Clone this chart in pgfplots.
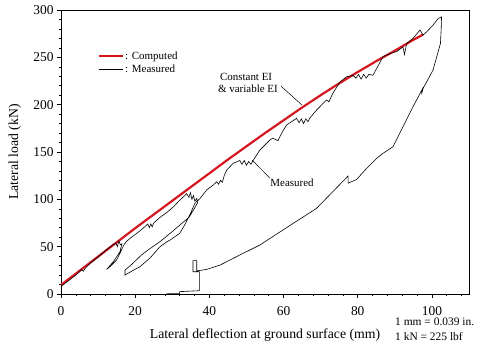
\documentclass[border=0pt]{standalone}
\usepackage{fontspec}
\setmainfont{Liberation Serif}
\usepackage{pgfplots}
\pgfplotsset{compat=1.18}
\definecolor{compred}{RGB}{214,22,30}
\begin{document}
\begin{tikzpicture}
\begin{axis}[
  scale only axis, width=408bp, height=284bp,
  xmin=0, xmax=110, ymin=0, ymax=300,
  xtick={0,20,...,100}, ytick={0,50,...,300},
  minor xtick={0,4,...,108}, minor ytick={0,10,...,300},
  tick align=outside, xtick pos=left, ytick pos=left,
  major tick length=4bp, minor tick length=2bp,
  tick style={black, line width=0.5pt},
  axis line style={line width=0.6pt},
  /pgf/number format/assume math mode=true,
  tick label style={font=\fontsize{13.5}{14}\selectfont},
  xticklabel style={yshift=-5bp},
  xlabel={Lateral deflection at ground surface (mm)},
  ylabel={Lateral load (kN)},
  label style={font=\fontsize{13.8}{15}\selectfont},
  xlabel style={at={(axis description cs:0.5,-0.144)}, anchor=center},
  ylabel style={at={(axis description cs:-0.113,0.5)}, anchor=center},
  clip=false,
  legend style={at={(axis cs:9.8,258)}, anchor=north west, draw=none, fill=none,
    font=\fontsize{11}{12}\selectfont, row sep=1pt, inner sep=0pt,
    nodes={inner sep=1.5pt}},
  legend cell align=left,
  legend image code/.code={\draw[#1] (0bp,0bp) -- (24bp,0bp);},
]
\addplot[compred, line width=2.2pt] coordinates {
(0,9.5)(5,24.5)(10,39.5)(15,54.5)(20,69.5)(25,84)(30,98.5)(35,113)(40,127.5)(45,142)(50,156)(55,170)(60,183.5)(65,197)(70,210)(75,222.5)(80,234.5)(85,246)(90,257)(95,268.5)(97.6,274)
};
\addlegendentry{: Computed}
\addplot[black, line width=0.6pt] coordinates {
(0,8)(2,14)(4,20)(5,23.5)(5.5,26)(6,24)(6.5,27)(8,33)(10,39)(12,46)(14,52)(14.8,54)(15.2,50)(15.6,56)(16,52)(16.4,53)(15.9,44.7)(14.1,34)(12.3,26)
(13.2,28.9)(15,35.9)(15.9,43)(16.8,50.7)(17.5,55)(19,60)(20.4,64)(22,69)(23.4,74)(23.8,70)(24.2,74)(24.6,71)(25,75)(26.7,81)(28.5,86)(30.3,92)(32,99)(33.9,106)(34.5,102)(34.9,107)(35.3,100)(35.7,104)(36.1,98)(36.6,101)(36.8,96)
(35.6,88)(34.5,81)(33,76)(30,66)(26.7,55.3)(24,48)(21.7,41.2)(19,31)(17.25,25.3)(17.25,20)
(19,24)(21.3,28.9)(24,38)(26.7,50)(28.5,55)(29.4,57)(32,64)(33.5,74)(35,86)(36.1,95.8)(37.5,101)(39.3,110)(41,115)(42,118.6)(42.5,116)(43,120)(43.5,118)(44,125)(44.7,131)(46.4,138)(48.2,141)(48.8,137)(49.4,141)(50,136)(50.6,140)(51.2,137)(51.8,141)(53.6,152)(56.3,162.6)(57.1,164.6)(58.5,162)(59.5,170)(60.8,178.5)(63.5,185.5)(64.2,181)(64.8,185)(65.4,180)(66,185)(66.6,182)(67.1,186)(68.9,194.3)(71.6,205)(72.2,203)(73.3,212)(75.2,224)(77,229.5)(78.7,231)(79.5,228)(80.2,232)(80.9,227)(81.6,232)(82.3,228)(83,232)(84.1,231)(86.8,250.6)(88.7,254)(90.5,256)(92.2,261)(92.6,253)(93.2,264.7)(94.9,270)(96.8,278.8)(97.6,273.5)(98.6,277)(100.3,284)(101.7,291)(102.6,292.8)
(102.5,280)(102.3,264.7)(100.3,236.5)(97.6,217)(97.2,211)(97.5,217)(94.9,197.8)(92.2,176.7)(89.5,155.5)(86.8,148.6)(85.1,143.3)(82.4,132.7)(79.7,121)(77.4,117)(77.4,124.6)(68.9,90.5)(60,68)(53.6,51.7)(48.2,41.2)(42.9,30.6)(39.3,26)(37,24.6)(36.6,24.6)(36.6,35.2)(35.6,35.2)(35.6,23.5)(37.3,23.5)(37.3,3.5)(32,2.5)(32,0.4)(28.5,0.4)
};
\addlegendentry{: Measured}
\node[font=\fontsize{11}{12}\selectfont, anchor=center] at (axis cs:49.9,229) {Constant EI};
\node[font=\fontsize{11}{12}\selectfont, anchor=center] at (axis cs:50.4,216.5) {\& variable EI};
\draw[black, line width=0.5pt] (axis cs:59.3,219.6) -- (axis cs:65,199.5);
\node[font=\fontsize{11}{12}\selectfont, anchor=center] at (axis cs:62.3,117) {Measured};
\draw[black, line width=0.5pt] (axis cs:51.5,141.5) -- (axis cs:56.3,122.5);
\node[font=\fontsize{11.5}{13}\selectfont, anchor=west, inner sep=0pt] at (axis description cs:0.8186,-0.099) {1 mm = 0.039 in.};
\node[font=\fontsize{11.5}{13}\selectfont, anchor=west, inner sep=0pt] at (axis description cs:0.8186,-0.148) {1 kN = 225 lbf};
\end{axis}
\pgfresetboundingbox
\path (current axis.south west) ++(-61bp,-56bp) rectangle ([shift={(21bp,10bp)}]current axis.north east);
\end{tikzpicture}
\end{document}
